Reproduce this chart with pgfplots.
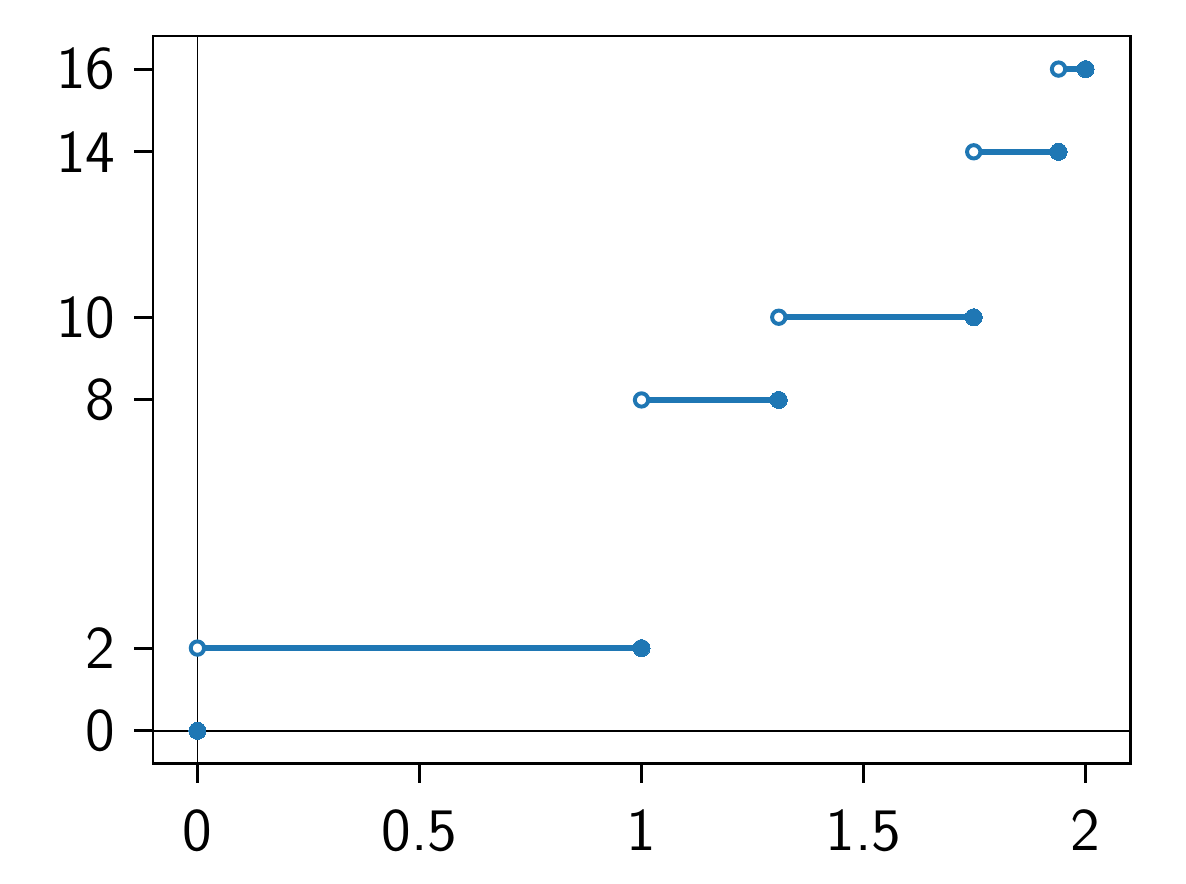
\documentclass[border=0pt]{standalone}
\usepackage{pgfplots}
\pgfplotsset{compat=1.18}
\definecolor{mblue}{HTML}{1F77B4}
\begin{document}
\begin{tikzpicture}
\begin{axis}[
  scale only axis,
  width=234.5pt, height=174.7pt,
  xmin=-0.1, xmax=2.1, ymin=-0.8, ymax=16.8,
  xtick={0,0.5,1,1.5,2},
  xticklabels={0,0.5,1,1.5,2},
  ytick={0,2,8,10,14,16},
  yticklabels={0,2,8,10,14,16},
  tick align=outside,
  tick pos=left,
  major tick length=4.5pt,
  axis line style={line width=0.7pt},
  every tick/.style={black, line width=0.7pt},
  ticklabel style={font=\sffamily\fontsize{14.5}{17}\selectfont},
  xticklabel style={yshift=-3pt},
  yticklabel style={xshift=-1pt},
  clip=false,
]
\path (rel axis cs:-0.1566,-0.1648) rectangle (rel axis cs:1.0573,1.0495);
\addplot[black, line width=0.4pt] coordinates {(0,-0.8) (0,16.8)};
\addplot[black, line width=0.4pt] coordinates {(-0.1,0) (2.1,0)};
% segments
\addplot[mblue, line width=1.45pt] coordinates {(0,2) (1,2)};
\addplot[mblue, line width=1.45pt] coordinates {(1,8) (1.309,8)};
\addplot[mblue, line width=1.45pt] coordinates {(1.309,10) (1.748,10)};
\addplot[mblue, line width=1.45pt] coordinates {(1.748,14) (1.939,14)};
\addplot[mblue, line width=1.45pt] coordinates {(1.939,16) (2,16)};
% closed points
\addplot[only marks, mark=*, mark size=2.05pt, mblue, mark options={fill=mblue, draw=mblue, line width=0pt}]
  coordinates {(0,0) (1,2) (1.309,8) (1.748,10) (1.939,14) (2,16)};
% open points
\addplot[only marks, mark=*, mark size=1.6pt, mblue, mark options={fill=white, draw=mblue, line width=0.95pt}]
  coordinates {(0,2) (1,8) (1.309,10) (1.748,14) (1.939,16)};
\end{axis}
\end{tikzpicture}
\end{document}
